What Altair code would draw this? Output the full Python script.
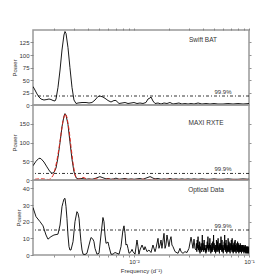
import altair as alt
import pandas as pd
import numpy as np

# ---------------- data (log10 frequency in d^-1, power) ----------------
bat_logf = [-2.878, -2.861, -2.843, -2.826, -2.809, -2.783, -2.757, -2.739, -2.722, -2.704,
            -2.687, -2.678, -2.661, -2.643, -2.626, -2.609, -2.600, -2.591, -2.574, -2.557,
            -2.539, -2.522, -2.504, -2.487, -2.452, -2.417, -2.391, -2.365, -2.339, -2.313,
            -2.296, -2.270, -2.243, -2.226, -2.200, -2.174, -2.157, -2.130, -2.104, -2.078,
            -2.052, -2.026, -2.000, -1.974, -1.948, -1.922, -1.896, -1.878, -1.861, -1.852,
            -1.835, -1.817, -1.791, -1.765, -1.739, -1.713, -1.687, -1.661, -1.635, -1.609,
            -1.583, -1.557, -1.530, -1.504, -1.478, -1.443, -1.409, -1.374, -1.339, -1.304,
            -1.270, -1.226, -1.183, -1.139, -1.096, -1.052, -1.000]
bat_power = [37, 30, 22, 16, 12, 10, 11, 12, 11, 9,
             8, 12, 35, 70, 110, 140, 147, 143, 115, 75,
             35, 10, 3, 4, 5, 5, 4, 5, 10, 17,
             18, 16, 12, 9, 6, 9, 9, 3, 4, 5,
             3, 4, 5, 3, 4, 3, 5, 12, 14, 16,
             8, 3, 4, 2, 4, 3, 5, 2, 3, 4,
             2, 3, 2, 3, 2, 4, 2, 3, 2, 3,
             2, 2, 3, 2, 3, 2, 3]

maxi_logf = [-2.878, -2.852, -2.826, -2.809, -2.783, -2.757, -2.730, -2.713, -2.696, -2.678,
             -2.661, -2.643, -2.626, -2.609, -2.600, -2.591, -2.574, -2.557, -2.539, -2.522,
             -2.504, -2.487, -2.452, -2.417, -2.391, -2.365, -2.339, -2.313, -2.296, -2.270,
             -2.243, -2.226, -2.200, -2.174, -2.157, -2.130, -2.104, -2.078, -2.052, -2.026,
             -2.000, -1.974, -1.948, -1.922, -1.896, -1.878, -1.861, -1.852, -1.835, -1.817,
             -1.791, -1.765, -1.739, -1.713, -1.687, -1.661, -1.635, -1.609, -1.583, -1.557,
             -1.530, -1.504, -1.478, -1.443, -1.409, -1.374, -1.339, -1.304, -1.270, -1.226,
             -1.183, -1.139, -1.096, -1.052, -1.000]
maxi_power = [38, 50, 58, 57, 48, 35, 22, 18, 20, 32,
              60, 100, 142, 170, 177, 173, 148, 102, 55, 22,
              6, 3, 4, 2, 3, 2, 4, 7, 9, 6,
              3, 4, 2, 3, 5, 2, 3, 4, 2, 3,
              2, 3, 4, 2, 5, 7, 9, 8, 5, 3,
              4, 2, 3, 2, 4, 2, 3, 2, 3, 2,
              3, 2, 3, 2, 3, 2, 2, 3, 2, 2,
              3, 2, 2, 3, 2]

model_logf = [-2.861, -2.826, -2.791, -2.765, -2.739, -2.722, -2.704, -2.687, -2.670, -2.652,
              -2.635, -2.617, -2.600, -2.583, -2.565, -2.548, -2.530, -2.513, -2.496, -2.478,
              -2.461, -2.443, -2.426, -2.409, -2.383, -2.357, -2.330, -2.304, -2.278, -2.243,
              -2.209, -2.174, -2.139, -2.104, -2.070, -2.035, -2.000, -1.965, -1.922, -1.878,
              -1.835, -1.791, -1.748, -1.704, -1.617, -1.530, -1.443, -1.357, -1.270, -1.183,
              -1.096, -1.000]
model_power = [2, 3, 3, 2, 1, 4, 12, 28, 52, 85,
               122, 158, 177, 168, 135, 90, 45, 14, 2, 2,
               5, 7, 5, 2, 1, 2, 3, 2, 1, 2,
               3, 1, 2, 1, 2, 1, 2, 1, 2, 1,
               2, 1, 1, 2, 1, 1, 1, 1, 1, 1,
               1, 1]

opt_logf = [-2.878, -2.852, -2.817, -2.791, -2.765, -2.748, -2.722, -2.696, -2.661, -2.643,
            -2.626, -2.617, -2.609, -2.600, -2.591, -2.583, -2.574, -2.565, -2.557, -2.548,
            -2.530, -2.513, -2.496, -2.487, -2.478, -2.470, -2.461, -2.452, -2.443, -2.426,
            -2.409, -2.391, -2.374, -2.357, -2.348, -2.339, -2.322, -2.304, -2.287, -2.270,
            -2.261, -2.252, -2.243, -2.226, -2.217, -2.200, -2.183, -2.165, -2.148, -2.130,
            -2.113, -2.096, -2.087, -2.078, -2.070, -2.061, -2.052, -2.043, -2.026, -2.017,
            -2.009, -1.991, -1.974, -1.965, -1.957, -1.948, -1.930, -1.913, -1.904, -1.887,
            -1.870, -1.852, -1.835, -1.817, -1.809, -1.791, -1.783, -1.774, -1.765, -1.757,
            -1.739, -1.730, -1.722, -1.713, -1.696, -1.687, -1.678, -1.670, -1.661, -1.643,
            -1.617, -1.600, -1.591, -1.574, -1.557, -1.539, -1.522, -1.504, -1.487, -1.478,
            -1.470]
opt_power = [28.5, 23, 20, 17.5, 12, 9.5, 11, 12, 12.5, 18,
             29, 31.5, 33.5, 34, 29, 22, 12, 5, 3, 3,
             8, 20, 26, 25, 22, 15, 8, 3, 0.5, 0.3,
             1, 6, 10.5, 9.5, 8, 4, 0.5, 1, 12, 22.5,
             20, 12, 7, 7.8, 5, 0.5, 0.5, 1.5, 1, 0.5,
             5, 15, 17.5, 13, 6, 6.5, 4, 1, 2, 3.4,
             2, 0.5, 9, 5, 0.5, 3, 6, 3, 5, 2,
             3, 1.5, 6, 2, 4, 10, 4, 6, 9, 4,
             13, 4, 6, 12, 5, 9, 11, 6, 5, 2,
             1, 4, 2, 1, 2, 1.5, 4, 10.7, 4, 9.5,
             4]
# dense high-frequency part of the optical periodogram (uniform frequency grid)
opt_dense_fmin = 0.0346
opt_dense_fmax = 0.1
opt_dense_power = [3, 7, 2, 9, 4, 11, 3, 6, 2, 8, 1, 5, 3, 7, 2,
                   5, 12, 3, 7, 2, 5, 9, 3, 6, 2, 4, 1, 6, 2, 5,
                   8, 4, 11, 3, 6, 2, 7, 4, 10, 3, 6, 1, 5, 2, 7,
                   5, 2, 8, 3, 6, 12, 4, 7, 2, 5, 3, 6, 1, 4, 2,
                   9, 3, 6, 2, 8, 4, 10, 3, 5, 2, 6, 1, 7, 3, 5,
                   7, 3, 11, 4, 6, 2, 9, 3, 5, 2, 6, 1, 4, 3, 6,
                   8, 4, 12, 3, 6, 2, 7, 3, 9, 4, 5, 1, 6, 2, 5,
                   5, 2, 10, 3, 6, 2, 8, 4, 5, 2, 7, 1, 4, 3, 6,
                   7, 3, 9, 4, 6, 2, 10, 3, 5, 2, 6, 1, 5, 2, 7,
                   6, 3, 8, 2, 5, 3, 9, 4, 6, 2, 5, 1, 4, 3, 6,
                   7, 3, 5, 2, 8, 4, 6, 2, 7, 3, 5, 1, 6, 2, 4,
                   5, 2, 6, 3, 7, 2, 5, 3, 6, 2, 4, 1, 5, 3, 6,
                   5, 3, 6, 2, 4, 3, 5, 2, 4, 3, 6, 1, 4, 2, 5,
                   4, 2, 5, 3, 6, 2, 4, 1, 5, 3, 4, 2, 5, 1, 4,
                   3, 5, 2, 4, 1, 5, 3, 4, 2, 5, 1, 3, 4, 2, 3]

thresholds = [18, 17.5, 15]
panel_names = ["Swift BAT", "MAXI RXTE", "Optical Data"]
name_pos = [(0.0398, 130), (0.0423, 152), (0.0423, 39)]
thr_label_f = 0.0594
y_domains = [[0, 150], [0, 200], [0, 45]]
y_ticks = [[0, 25, 50, 75, 100, 125], [0, 50, 100, 150], [0, 10, 20, 30, 40]]
x_ticks = [0.002, 0.003, 0.004, 0.005, 0.006, 0.007, 0.008, 0.009, 0.01,
           0.02, 0.03, 0.04, 0.05, 0.06, 0.07, 0.08, 0.09, 0.1]

# ---------------- build ----------------
def mk(logf, p):
    return pd.DataFrame({"freq": [10 ** v for v in logf], "power": p})

bat_df = mk(bat_logf, bat_power)
maxi_df = mk(maxi_logf, maxi_power)
model_df = mk(model_logf, model_power)
dense_f = np.linspace(opt_dense_fmin, opt_dense_fmax, len(opt_dense_power))
opt_df = pd.concat([mk(opt_logf, opt_power),
                    pd.DataFrame({"freq": dense_f, "power": opt_dense_power})],
                   ignore_index=True)

FONT = "Liberation Sans"
W, H = 216, 75
xscale = alt.Scale(type="log", domain=[0.001324, 0.1], nice=False)


def panel(i, df, extra=None):
    ys = alt.Scale(domain=y_domains[i], nice=False, zero=True)
    if i == 2:
        xaxis = alt.Axis(values=x_ticks, title="Frequency (d⁻¹)",
                         labelExpr="datum.value == 0.01 ? '10⁻²' : (datum.value == 0.1 ? '10⁻¹' : '')",
                         labelFlush=False, labelOverlap=False, grid=False, domain=False,
                         tickSize=2, titlePadding=3, labelPadding=1)
    elif i == 0:
        xaxis = alt.Axis(values=x_ticks, orient="top", labels=False, title=None,
                         grid=False, domain=False, tickSize=2)
    else:
        xaxis = None
    X = alt.X("freq:Q", scale=xscale, axis=xaxis)
    base = alt.Chart(df).mark_line(color="black", strokeWidth=0.9, clip=True).encode(
        x=X,
        y=alt.Y("power:Q", scale=ys,
                axis=alt.Axis(values=y_ticks[i], title="Power", grid=False, domain=False,
                              tickSize=3, labelPadding=1, titlePadding=1)),
    )
    layers = [base]
    if extra is not None:
        layers.append(alt.Chart(extra).mark_line(color="#e0261d", strokeDash=[4, 2],
                                                 strokeWidth=1, clip=True).encode(
            x=X, y=alt.Y("power:Q", scale=ys, axis=None)))
    thr = alt.Chart(pd.DataFrame({"power": [thresholds[i]]})).mark_rule(
        color="black", strokeWidth=0.8, strokeDash=[3, 2, 1, 2]).encode(
        y=alt.Y("power:Q", scale=ys,
                axis=alt.Axis(orient="right", values=y_ticks[i][1:], labels=False, title=None,
                              grid=False, domain=False, tickSize=2)))
    layers.append(thr)
    thr_txt = alt.Chart(pd.DataFrame({"freq": [thr_label_f], "power": [thresholds[i]],
                                      "t": ["99.9%"]})).mark_text(
        font=FONT, fontSize=6, color="#333", baseline="bottom", dy=-1).encode(
        x=X, y=alt.Y("power:Q", scale=ys, axis=None), text="t:N")
    layers.append(thr_txt)
    nm = alt.Chart(pd.DataFrame({"freq": [name_pos[i][0]], "power": [name_pos[i][1]],
                                 "t": [panel_names[i]]})).mark_text(
        font=FONT, fontSize=6.5, color="#333").encode(
        x=X, y=alt.Y("power:Q", scale=ys, axis=None), text="t:N")
    layers.append(nm)
    return alt.layer(*layers).resolve_axis(y="independent").properties(width=W, height=H)


chart = alt.vconcat(
    panel(0, bat_df),
    panel(1, maxi_df, model_df),
    panel(2, opt_df),
    spacing=0,
    bounds="flush",
).properties(
    padding={"left": 3, "top": 18, "right": 5, "bottom": 5}
).configure_view(
    stroke="#999", strokeWidth=1.5
).configure_axis(
    labelFont=FONT, labelFontSize=6, labelColor="#333",
    titleFont=FONT, titleFontSize=6, titleColor="#333", titleFontWeight="normal",
    tickColor="#777", tickWidth=0.8
)

chart.save("out.html", embed_options={"renderer": "svg", "actions": False})
